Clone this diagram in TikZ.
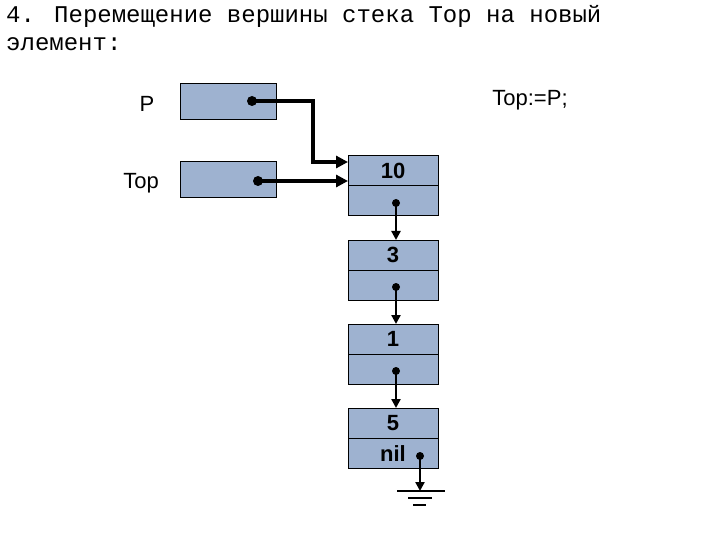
\documentclass[tikz,border=0pt]{standalone}
\usepackage{fontspec}
\setmainfont{Liberation Sans}
\newfontfamily\monof{Liberation Mono}
\usetikzlibrary{arrows.meta}
\definecolor{cellblue}{RGB}{158,178,208}
\tikzset{
  cell/.style={draw=black, fill=cellblue, line width=1pt, minimum width=90pt, minimum height=30pt, inner sep=0pt, font=\fontsize{22}{24}\selectfont\bfseries},
  pbox/.style={draw=black, fill=cellblue, line width=1pt, minimum width=96pt, minimum height=36pt, inner sep=0pt},
  lbl/.style={font=\fontsize{22}{24}\selectfont, inner sep=0pt},
  ptr/.style={line width=4pt, -{Triangle[length=12pt,width=12pt]}},
  thin ptr/.style={line width=2.5pt, -{Triangle[length=9pt,width=9pt]}},
  dot/.style={circle, fill=black, minimum size=10pt, inner sep=0pt},
  sdot/.style={circle, fill=black, minimum size=8pt, inner sep=0pt}
}
\begin{document}
\begin{tikzpicture}[x=1pt,y=-1pt]
\useasboundingbox (0,0) rectangle (720,540);
\node[anchor=north west, inner sep=0pt, align=left, font=\monof\fontsize{24}{28}\selectfont] (title) at (6,5) {4. Перемещение вершины стека Top на новый\\элемент:};
\node[pbox] (pb) at (228,102) {};
\node[pbox] (tb) at (228,180) {};
\node[lbl] (pl) at (147,104) {P};
\node[lbl] (tl) at (141,183) {Top};
\node[lbl] (asg) at (530,100) {Top:=P;};
\node[cell] (n10) at (393,171) {10};
\node[cell] (n10b) at (393,201) {};
\node[cell] (n3) at (393,255) {3};
\node[cell] (n3b) at (393,285) {};
\node[cell] (n1) at (393,339) {1};
\node[cell] (n1b) at (393,369) {};
\node[cell] (n5) at (393,423) {5};
\node[cell] (n5b) at (393,453) {};
\node[lbl, font=\fontsize{22}{24}\selectfont\bfseries] (nil) at (393,454) {nil};
\node[dot] (pd) at (252,101) {};
\node[dot] (td) at (258,181) {};
\coordinate (pbend) at (313,101);
\coordinate (pin) at (348,162);
\coordinate (tin) at (348,181);
\draw[ptr] (pd.center) -- (pbend) |- (pin);
\draw[ptr] (td.center) -- (tin);
\node[sdot] (d1) at (396,203) {};
\node[sdot] (d2) at (396,287) {};
\node[sdot] (d3) at (396,371) {};
\node[sdot] (d4) at (420,456) {};
\draw[thin ptr] (d1.center) -- (396,240);
\draw[thin ptr] (d2.center) -- (396,324);
\draw[thin ptr] (d3.center) -- (396,408);
\coordinate (g) at (420,491);
\draw[thin ptr] (d4.center) -- (g);
\draw[line width=2pt] (397,491) -- (445,491);
\draw[line width=2pt] (408,498) -- (432,498);
\draw[line width=2pt] (413,505) -- (426,505);
\end{tikzpicture}
\end{document}
